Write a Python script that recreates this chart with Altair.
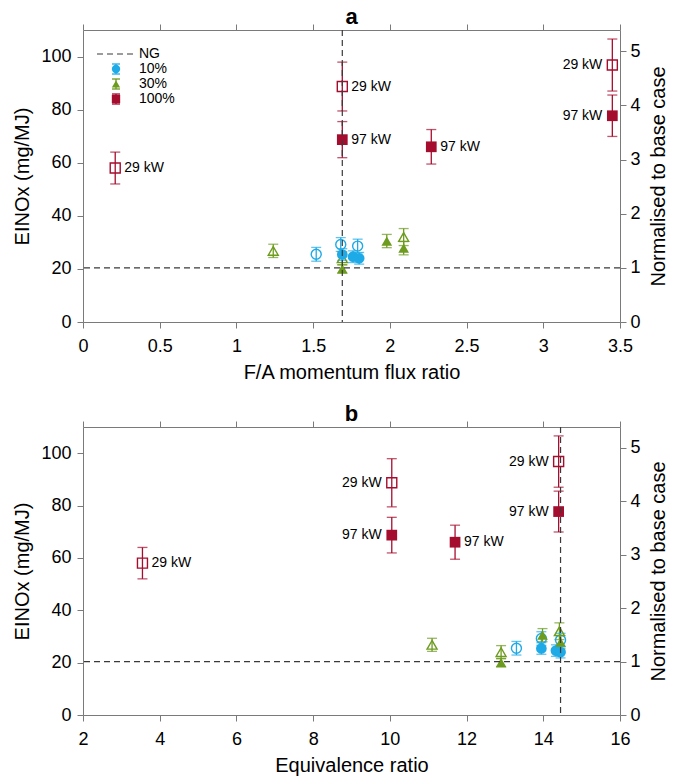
import altair as alt
import pandas as pd

# ---------------- data ----------------
groups = ["100%"] * 6 + ["10%"] * 6 + ["30%"] * 6
filled = [False, False, True, True, False, True,
          False, False, False, True, True, True,
          False, False, False, True, True, True]
fa_ratio = [0.21, 1.69, 1.69, 2.27, 3.45, 3.45,
            1.52, 1.68, 1.79, 1.69, 1.76, 1.80,
            1.24, 1.69, 2.09, 1.69, 1.98, 2.09]
equiv_ratio = [3.55, 10.05, 10.05, 11.70, 14.40, 14.40,
               13.30, 13.95, 14.45, 13.95, 14.33, 14.45,
               11.10, 12.90, 14.42, 12.90, 13.98, 14.45]
einox = [58.0, 88.7, 68.7, 66.0, 96.8, 77.7,
         25.5, 29.2, 28.6, 25.4, 24.6, 24.0,
         26.8, 24.0, 32.0, 20.0, 30.5, 27.8]
einox_err = [6.0, 9.2, 6.8, 6.5, 9.8, 7.8,
             2.6, 2.6, 2.6, 2.2, 2.2, 2.2,
             2.5, 2.5, 3.2, 1.6, 2.5, 2.5]
point_labels = ["29 kW", "29 kW", "97 kW", "97 kW", "29 kW", "97 kW"] + [""] * 12
side_a = ["right", "right", "right", "right", "left", "left"] + [""] * 12
side_b = ["right", "left", "left", "right", "left", "left"] + [""] * 12

group_names = ["10%", "30%", "100%"]
group_colors = ["#1eaae7", "#6c9b1e", "#a50d2e"]
group_shapes = ["circle", "triangle-up", "square"]

NG_EINOX = 20.4      # base case EINOx (normalisation)
NG_FA = 1.69         # NG momentum flux ratio
NG_ER = 14.45        # NG equivalence ratio

Y_MAX = 110
y_ticks = [0, 20, 40, 60, 80, 100]
norm_ticks = [0, 1, 2, 3, 4, 5]
fa_ticks = [0, 0.5, 1, 1.5, 2, 2.5, 3, 3.5]
er_ticks = [2, 4, 6, 8, 10, 12, 14, 16]

df = pd.DataFrame({
    "group": groups, "filled": filled, "fa": fa_ratio, "er": equiv_ratio,
    "einox": einox, "err": einox_err, "label": point_labels,
    "side_a": side_a, "side_b": side_b,
})

FONT = "Liberation Sans"
DASH = [6, 4]
NG_COLOR = "#3a3a3a"
PLOT_W = 537

color = alt.Color("group:N", scale=alt.Scale(domain=group_names, range=group_colors), legend=None)
shape = alt.Shape("group:N", scale=alt.Scale(domain=group_names, range=group_shapes), legend=None)


def make_panel(xfield, xdom, xticks, xtitle, side_field, ng_x, title, height, legend):
    xscale = alt.Scale(domain=xdom, nice=False, zero=False)
    yscale = alt.Scale(domain=[0, Y_MAX], nice=False)
    xaxis = alt.Axis(values=xticks, format="~g", title=xtitle, orient="bottom")
    yaxis = alt.Axis(values=y_ticks, title="EINOx (mg/MJ)", orient="left")
    xenc = alt.X(f"{xfield}:Q", scale=xscale, axis=xaxis)

    base = alt.Chart(df).transform_calculate(
        lo="datum.einox - datum.err", hi="datum.einox + datum.err")

    rules = base.mark_rule(strokeWidth=1.3).encode(
        x=xenc, y=alt.Y("lo:Q", scale=yscale, axis=yaxis), y2="hi:Q", color=color)
    caps = base.transform_fold(["lo", "hi"], as_=["k", "v"]).mark_tick(
        orient="horizontal", size=10, thickness=1.3).encode(
        x=xenc, y=alt.Y("v:Q", scale=yscale, axis=yaxis), color=color)
    open_pts = base.transform_filter("!datum.filled").mark_point(
        filled=False, strokeWidth=1.4, size=100, opacity=1).encode(
        x=xenc, y=alt.Y("einox:Q", scale=yscale, axis=yaxis), color=color, shape=shape)
    fill_pts = base.transform_filter("datum.filled").mark_point(
        filled=True, size=115, opacity=1).encode(
        x=xenc, y=alt.Y("einox:Q", scale=yscale, axis=yaxis), color=color, shape=shape)
    lab_r = base.transform_filter(f"datum.{side_field} == 'right'").mark_text(
        align="left", baseline="middle", dx=9, fontSize=14, font=FONT, color="black").encode(
        x=xenc, y=alt.Y("einox:Q", scale=yscale, axis=yaxis), text="label:N")
    lab_l = base.transform_filter(f"datum.{side_field} == 'left'").mark_text(
        align="right", baseline="middle", dx=-10, fontSize=14, font=FONT, color="black").encode(
        x=xenc, y=alt.Y("einox:Q", scale=yscale, axis=yaxis), text="label:N")

    layers = [rules, caps, open_pts, fill_pts, lab_r, lab_l]

    if legend:
        one = alt.Chart(pd.DataFrame({"k": [0]}))
        lx_sym, lx_txt = 33, 56
        rows_y = [39, 54, 69]
        layers.append(one.mark_rule(strokeDash=DASH, color=NG_COLOR, strokeWidth=1.2).encode(
            x=alt.value(14), x2=alt.value(53), y=alt.value(24)))
        layers.append(one.mark_text(align="left", baseline="middle", fontSize=14, font=FONT,
                                    color="black").encode(
            x=alt.value(lx_txt), y=alt.value(24), text=alt.value("NG")))
        for name, col, shp, ry in zip(group_names, group_colors, group_shapes, rows_y):
            layers.append(one.mark_rule(color=col, strokeWidth=1.3).encode(
                x=alt.value(lx_sym), y=alt.value(ry - 5), y2=alt.value(ry + 5)))
            layers.append(one.mark_rule(color=col, strokeWidth=1.3).encode(
                x=alt.value(lx_sym - 4), x2=alt.value(lx_sym + 4), y=alt.value(ry - 5)))
            layers.append(one.mark_rule(color=col, strokeWidth=1.3).encode(
                x=alt.value(lx_sym - 4), x2=alt.value(lx_sym + 4), y=alt.value(ry + 5)))
            layers.append(one.mark_point(shape=shp, filled=True, size=70, opacity=1,
                                         color=col).encode(
                x=alt.value(lx_sym), y=alt.value(ry)))
            layers.append(one.mark_text(align="left", baseline="middle", fontSize=14, font=FONT,
                                        color="black").encode(
                x=alt.value(lx_txt), y=alt.value(ry), text=alt.value(name)))

    main = alt.layer(*layers)

    vtop = alt.Chart(pd.DataFrame({"v": [ng_x]})).mark_rule(
        strokeDash=DASH, color=NG_COLOR, strokeWidth=1.2).encode(
        x=alt.X("v:Q", scale=xscale,
                axis=alt.Axis(orient="top", labels=False, title=None, values=xticks)))
    hright = alt.Chart(pd.DataFrame({"n": [1.0]})).mark_rule(
        strokeDash=DASH, color=NG_COLOR, strokeWidth=1.2).encode(
        y=alt.Y("n:Q", scale=alt.Scale(domain=[0, Y_MAX / NG_EINOX], nice=False),
                axis=alt.Axis(orient="right", values=norm_ticks,
                              title="Normalised to base case", titleAngle=270,
                              titleBaseline="top")))

    return alt.layer(main, vtop, hright).resolve_scale(y="independent").resolve_axis(
        x="independent", y="independent").properties(
        width=PLOT_W, height=height,
        title=alt.TitleParams(title, fontSize=22, fontWeight="bold", anchor="middle",
                              offset=-5, font=FONT, color="black"))


top = make_panel("fa", [0, 3.5], fa_ticks, "F/A momentum flux ratio", "side_a", NG_FA, "a", 292, True)
bottom = make_panel("er", [2, 16], er_ticks, "Equivalence ratio", "side_b", NG_ER, "b", 288, False)

chart = alt.vconcat(top, bottom, spacing=19,
                    padding={"left": 12, "top": 5, "right": 2, "bottom": 2}).configure(
    font=FONT, background="white").configure_view(
    stroke="#7a7a7a", strokeWidth=1).configure_axis(
    labelFontSize=18, titleFontSize=20, titleFontWeight="normal", labelColor="black",
    titleColor="black", tickColor="#7a7a7a", tickSize=6, tickWidth=1, domain=False, grid=False,
    labelFont=FONT, titleFont=FONT, labelFlush=False, labelOverlap=False).configure_axisBottom(
    labelPadding=9, titlePadding=7).configure_axisLeft(
    labelPadding=6, titlePadding=8).configure_axisRight(
    labelPadding=4, titlePadding=8)

chart.save("out.html", embed_options={"renderer": "svg", "actions": False})
